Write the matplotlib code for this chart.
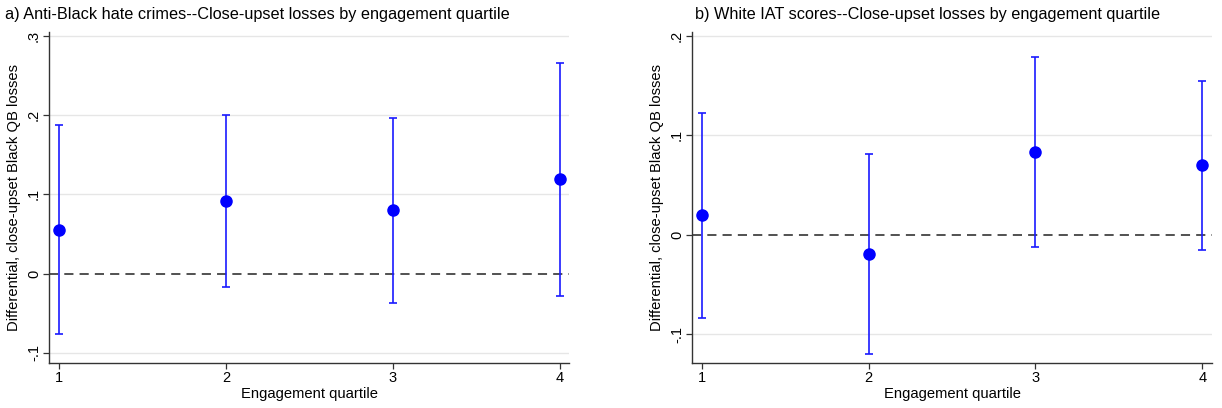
import matplotlib
matplotlib.use('Agg')
import matplotlib.pyplot as plt

plt.rcParams['font.family'] = ['Liberation Sans', 'DejaVu Sans']

# quartile estimates with 95% confidence bounds
quartiles = [1, 2, 3, 4]

hate_est = [0.055, 0.092, 0.080, 0.119]
hate_lo = [-0.077, -0.017, -0.037, -0.028]
hate_hi = [0.187, 0.200, 0.197, 0.266]

iat_est = [0.020, -0.019, 0.083, 0.070]
iat_lo = [-0.084, -0.120, -0.012, -0.015]
iat_hi = [0.123, 0.081, 0.179, 0.155]

hate_ticks = [-0.1, 0, 0.1, 0.2, 0.3]
hate_labels = ['-.1', '0', '.1', '.2', '.3']
iat_ticks = [-0.1, 0, 0.1, 0.2]
iat_labels = ['-.1', '0', '.1', '.2']

titles = ['a) Anti-Black hate crimes--Close-upset losses by engagement quartile',
          'b) White IAT scores--Close-upset losses by engagement quartile']

fig = plt.figure(figsize=(12.22, 4.08), dpi=100)
W, H = 1222, 408


def panel(x0, x1, title, title_x, est, lo, hi, ticks, labels, ylim):
    ax = fig.add_axes([x0 / W, 1 - 363 / H, (x1 - x0) / W, (363 - 32) / H])
    for t in ticks:
        if t != 0:
            ax.axhline(t, color='#e6e6e6', lw=1.0, zorder=0)
    ax.axhline(0, color='#222222', lw=1.1, ls=(0, (6, 4)), zorder=1)
    yerr = [[e - l for e, l in zip(est, lo)], [h - e for e, h in zip(est, hi)]]
    ax.errorbar(quartiles, est, yerr=yerr, fmt='o', color='#0000ff', ecolor='#1a1aff',
                ms=8, elinewidth=1.2, capsize=3, capthick=1.2, zorder=3)
    ax.set_xlim(0.942, 4.057)
    ax.set_ylim(*ylim)
    ax.set_xticks(quartiles)
    ax.set_xticklabels([str(q) for q in quartiles])
    ax.set_yticks(ticks)
    ax.set_yticklabels(labels, rotation=90, va='center')
    ax.tick_params(axis='both', length=4, width=0.9, color='#333333', labelsize=10.5, pad=2)
    for s in ['top', 'right']:
        ax.spines[s].set_visible(False)
    for s in ['left', 'bottom']:
        ax.spines[s].set_color('#333333')
        ax.spines[s].set_linewidth(1.0)
    ax.set_xlabel('Engagement quartile', fontsize=10.6, labelpad=1)
    ax.set_ylabel('Differential, close-upset Black QB losses', fontsize=10.6, labelpad=4)
    fig.text(title_x / W, 1 - 14 / H, title, fontsize=11.7, ha='left', va='center')
    return ax


panel(49.3, 569.3, titles[0], 5, hate_est, hate_lo, hate_hi,
      hate_ticks, hate_labels, (-0.113, 0.305))
panel(692.3, 1211.7, titles[1], 695, iat_est, iat_lo, iat_hi,
      iat_ticks, iat_labels, (-0.129, 0.204))

fig.savefig('out.png', dpi=100)
